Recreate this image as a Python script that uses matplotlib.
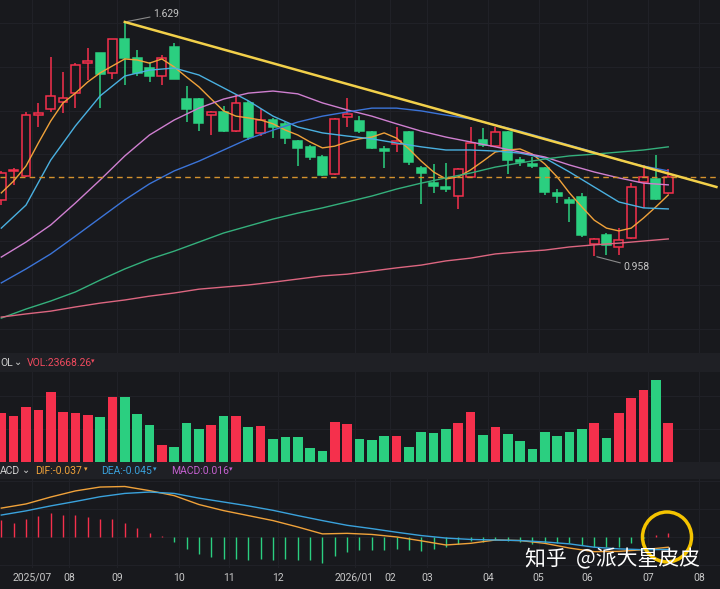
import numpy as np
import matplotlib.pyplot as plt
from matplotlib.patches import Rectangle, Ellipse
from matplotlib.ticker import MultipleLocator

# weekly candles
opens = [1.119, 1.202, 1.187, 1.362, 1.380, 1.400, 1.425, 1.511, 1.540, 1.483,
         1.580, 1.526, 1.497, 1.474, 1.557, 1.408, 1.408, 1.362, 1.371, 1.316,
         1.397, 1.311, 1.348, 1.337, 1.288, 1.271, 1.242, 1.193, 1.357, 1.345,
         1.314, 1.265, 1.279, 1.314, 1.210, 1.167, 1.156, 1.130, 1.185, 1.291,
         1.273, 1.314, 1.233, 1.222, 1.210, 1.139, 1.119, 1.127, 0.992, 1.018,
         0.984, 1.010, 1.170, 1.179, 1.139]
highs = [1.202, 1.210, 1.371, 1.397, 1.529, 1.486, 1.511, 1.555, 1.540, 1.580,
         1.629, 1.549, 1.514, 1.534, 1.569, 1.446, 1.411, 1.374, 1.388, 1.420,
         1.403, 1.380, 1.354, 1.342, 1.291, 1.276, 1.248, 1.354, 1.411, 1.360,
         1.316, 1.273, 1.328, 1.316, 1.216, 1.222, 1.225, 1.210, 1.328, 1.325,
         1.328, 1.316, 1.242, 1.242, 1.213, 1.150, 1.127, 1.139, 1.010, 1.024,
         1.038, 1.167, 1.219, 1.248, 1.208]
lows = [1.104, 1.162, 1.185, 1.328, 1.371, 1.368, 1.382, 1.463, 1.382, 1.466,
        1.448, 1.474, 1.457, 1.448, 1.466, 1.342, 1.316, 1.305, 1.314, 1.314,
        1.291, 1.302, 1.296, 1.279, 1.216, 1.233, 1.187, 1.190, 1.328, 1.311,
        1.265, 1.210, 1.256, 1.219, 1.107, 1.139, 1.142, 1.093, 1.185, 1.271,
        1.271, 1.193, 1.216, 1.210, 1.133, 1.110, 1.056, 1.013, 0.958, 0.961,
        0.961, 1.007, 1.096, 1.119, 1.136]
closes = [1.196, 1.205, 1.362, 1.368, 1.417, 1.411, 1.506, 1.517, 1.480, 1.580,
          1.526, 1.483, 1.474, 1.526, 1.466, 1.380, 1.339, 1.371, 1.316, 1.397,
          1.299, 1.348, 1.328, 1.296, 1.268, 1.242, 1.190, 1.351, 1.365, 1.316,
          1.268, 1.259, 1.288, 1.228, 1.196, 1.159, 1.150, 1.208, 1.282, 1.276,
          1.314, 1.233, 1.228, 1.216, 1.142, 1.130, 1.110, 1.018, 1.007, 0.990,
          1.004, 1.156, 1.185, 1.121, 1.185]
volumes = [29490, 27880, 33300, 31090, 42120, 29890, 29690, 28480, 27280, 39110,
           38910, 29080, 22470, 10030, 9030, 23470, 19860, 22060, 27880, 27880,
           21260, 21860, 13840, 14840, 15040, 8420, 6420, 24070, 23070, 14040,
           13440, 15450, 15450, 9030, 17850, 17450, 19660, 23670, 30090, 16250,
           21060, 16850, 12640, 7820, 18050, 15850, 18050, 19860, 23470, 14640,
           29490, 38310, 43530, 49550, 23668.26]

# moving averages: ma5 read at every week, the others every second week
ma5 = [1.139, 1.173, 1.216, 1.282, 1.345, 1.397, 1.425, 1.457, 1.483, 1.503,
       1.523, 1.520, 1.511, 1.523, 1.500, 1.471, 1.443, 1.408, 1.374, 1.359,
       1.354, 1.348, 1.337, 1.319, 1.305, 1.285, 1.268, 1.273, 1.285, 1.294,
       1.299, 1.311, 1.296, 1.265, 1.230, 1.199, 1.179, 1.185, 1.205, 1.230,
       1.256, 1.262, 1.265, 1.250, 1.222, 1.185, 1.139, 1.099, 1.061, 1.038,
       1.030, 1.038, 1.067, 1.099, 1.133]
ma_idx = list(range(0, 55, 2))
ma10 = [1.038, 1.104, 1.233, 1.331, 1.417, 1.474, 1.491, 1.497, 1.477, 1.440,
        1.403, 1.359, 1.328, 1.311, 1.302, 1.294, 1.282, 1.271, 1.262, 1.262,
        1.259, 1.253, 1.239, 1.199, 1.156, 1.113, 1.096, 1.093]
ma20 = [0.955, 0.998, 1.047, 1.110, 1.176, 1.245, 1.305, 1.348, 1.382, 1.408,
        1.425, 1.431, 1.423, 1.397, 1.377, 1.359, 1.337, 1.316, 1.299, 1.285,
        1.271, 1.256, 1.242, 1.219, 1.199, 1.182, 1.167, 1.162]
ma30 = [0.881, 0.921, 0.964, 1.015, 1.067, 1.119, 1.165, 1.202, 1.230, 1.262,
        1.294, 1.319, 1.342, 1.359, 1.371, 1.382, 1.382, 1.374, 1.362, 1.351,
        1.334, 1.316, 1.296, 1.276, 1.256, 1.233, 1.216, 1.202]
ma60 = [0.780, 0.806, 0.829, 0.855, 0.889, 0.921, 0.949, 0.972, 0.998, 1.024,
        1.044, 1.064, 1.081, 1.096, 1.113, 1.130, 1.150, 1.167, 1.182, 1.196,
        1.213, 1.225, 1.236, 1.245, 1.250, 1.256, 1.262, 1.271]
ma120 = [0.783, 0.792, 0.800, 0.812, 0.823, 0.832, 0.843, 0.852, 0.863, 0.869,
         0.875, 0.883, 0.892, 0.901, 0.906, 0.915, 0.924, 0.932, 0.944, 0.952,
         0.964, 0.970, 0.975, 0.984, 0.990, 0.995, 1.001, 1.007]

trend_idx = [10, 57.9]
trend_val = [1.629, 1.156]

dif = [0.104, 0.119, 0.144, 0.166, 0.180, 0.182, 0.167, 0.149, 0.117, 0.095,
       0.077, 0.059, 0.036, 0.011, 0.013, 0.009, 0.000, -0.014, -0.029, -0.023,
       -0.011, -0.013, -0.023, -0.040, -0.053, -0.052, -0.046, -0.037]
dea = [0.079, 0.094, 0.112, 0.128, 0.145, 0.157, 0.162, 0.157, 0.140, 0.126,
       0.112, 0.096, 0.077, 0.059, 0.042, 0.030, 0.017, 0.005, -0.004, -0.009,
       -0.011, -0.013, -0.018, -0.025, -0.037, -0.043, -0.046, -0.045]
macd = [0.061, 0.052, 0.064, 0.076, 0.085, 0.079, 0.079, 0.073, 0.064, 0.064,
        0.052, 0.031, 0.016, 0.004, -0.018, -0.044, -0.061, -0.073, -0.080, -0.080,
        -0.083, -0.080, -0.083, -0.080, -0.083, -0.083, -0.093, -0.068, -0.053, -0.047,
        -0.047, -0.047, -0.044, -0.047, -0.049, -0.044, -0.037, -0.025, -0.013, -0.017,
        -0.011, -0.013, -0.017, -0.025, -0.021, -0.021, -0.023, -0.029, -0.035, -0.037,
        -0.035, -0.021, -0.004, 0.007, 0.016]

month_pos = [2.5, 5.5, 9.4, 14.4, 18.4, 22.4, 28.6, 31.5, 34.5, 39.4, 43.5, 47.4, 52.4, 56.5]
month_labels = ['2025/07', '08', '09', '10', '11', '12', '2026/01', '02', '03',
                '04', '05', '06', '07', '08']

BG = '#18191d'
BAND = '#1f2025'
GRID = '#202127'
UP = '#f5304c'
DOWN = '#2bcf80'
FONT = ['Roboto', 'DejaVu Sans']

n = len(opens)
idx = np.arange(n)
cols = [UP if closes[i] >= opens[i] else DOWN for i in range(n)]
H = 589.0

fig = plt.figure(figsize=(7.2, 5.89), dpi=100, facecolor=BG)
ax = fig.add_axes([0, 1 - 353 / H, 1, 353 / H])
axv = fig.add_axes([0, 1 - 462 / H, 1, 90 / H])
axm = fig.add_axes([0, 1 - 568 / H, 1, 89 / H])

fig.add_artist(Rectangle((0, 1 - 372 / H), 1, 19 / H, transform=fig.transFigure,
                         color=BAND, zorder=-5))
fig.add_artist(Rectangle((0, 1 - 479 / H), 1, 17 / H, transform=fig.transFigure,
                         color=BAND, zorder=-5))

for a in (ax, axv, axm):
    a.set_facecolor(BG)
    for s in a.spines.values():
        s.set_visible(False)
    a.set_xlim(-0.105, 58.19)
    a.set_xticks(month_pos)
    a.grid(True, color=GRID, lw=0.8)
    a.set_axisbelow(True)
    a.tick_params(length=0, labelleft=False, labelbottom=False)

# price panel
ax.set_ylim(0.680, 1.692)
ax.yaxis.set_major_locator(MultipleLocator(0.125))
bw = 0.72
for i in range(n):
    o, h, l, c = opens[i], highs[i], lows[i], closes[i]
    up = c >= o
    ax.vlines(i, l, h, color=cols[i], lw=1.1, zorder=2)
    ax.add_patch(Rectangle((i - bw / 2, min(o, c)), bw, max(abs(c - o), 0.003),
                           facecolor=BG if up else cols[i], edgecolor=cols[i],
                           lw=1.1, zorder=3))

ax.plot(idx, ma5, color='#f0a23a', lw=1, zorder=4)
ax.plot(ma_idx, ma10, color='#4ab0e0', lw=1, zorder=4)
ax.plot(ma_idx, ma20, color='#cf7fd0', lw=1, zorder=4)
ax.plot(ma_idx, ma30, color='#3b74d8', lw=1, zorder=4)
ax.plot(ma_idx, ma60, color='#34b07c', lw=1, zorder=4)
ax.plot(ma_idx, ma120, color='#dc6680', lw=1, zorder=4)
ax.axhline(closes[-1], color='#d4922e', lw=1, ls=(0, (4, 3)), zorder=4)
ax.plot(trend_idx, trend_val, color='#f2d04a', lw=1.8, zorder=5)

ax.annotate('1.629', xy=(10, max(highs)), xytext=(28, 8), textcoords='offset pixels',
            color='#c4c4c4', fontsize=7.5, family=FONT, ha='left', va='center',
            arrowprops=dict(arrowstyle='-', color='#8a8a8a', lw=0.8, shrinkA=0, shrinkB=2))
ax.annotate('0.958', xy=(48, min(lows)), xytext=(29, -11), textcoords='offset pixels',
            color='#c4c4c4', fontsize=7.5, family=FONT, ha='left', va='center',
            arrowprops=dict(arrowstyle='-', color='#8a8a8a', lw=0.8, shrinkA=0, shrinkB=2))

# volume panel
axv.bar(idx, volumes, width=0.78, color=cols, zorder=2)
axv.set_ylim(0, 54160)
axv.yaxis.set_major_locator(MultipleLocator(20000))

# macd panel
mcols = [UP if v > 0 else DOWN for v in macd]
axm.vlines(idx, 0, macd, colors=mcols, lw=1.0, zorder=2)
axm.plot(ma_idx, dif, color='#f0a23a', lw=1, zorder=3)
axm.plot(ma_idx, dea, color='#3aa2dc', lw=1, zorder=3)
axm.set_ylim(-0.112, 0.209)
axm.yaxis.set_major_locator(MultipleLocator(0.1))
axm.set_xticklabels(month_labels)
axm.tick_params(labelbottom=True, labelcolor='#c8c8c8', labelsize=7.5, pad=3.5)
for t in axm.get_xticklabels():
    t.set_family(FONT)
axm.add_patch(Ellipse((53.9, 0.0), 3.97, 0.18, fill=False, edgecolor='#f5c400',
                      lw=2.5, clip_on=False, zorder=6))

# header rows
def label(x, y, s, color, size=7.5):
    fig.text(x / 720, 1 - y / H, s, color=color, fontsize=size, family=FONT,
             ha='left', va='center')

label(0, 363, 'OL', '#d0d0d0')
label(14, 362, '⌄', '#d0d0d0', 7)
label(27, 363, 'VOL:%.2f' % volumes[-1], '#f04a5e')
label(91, 362, '▾', '#f04a5e', 5)

label(0, 471, 'ACD', '#d0d0d0')
label(22, 470, '⌄', '#d0d0d0', 7)
label(35, 471, 'DIF:%.3f' % dif[-1], '#f0a23a')
label(84, 470, '▾', '#f0a23a', 5)
label(101, 471, 'DEA:%.3f' % dea[-1], '#3aa2dc')
label(153, 470, '▾', '#3aa2dc', 5)
label(171, 471, 'MACD:%.3f' % macd[-1], '#c560d0')
label(229, 470, '▾', '#c560d0', 5)

fig.text(525 / 720, 1 - 559 / H, '知乎  @派大星皮皮', color='white', fontsize=15,
         family=['Noto Sans CJK SC', 'DejaVu Sans'], ha='left', va='center', zorder=10)

fig.savefig('out.png', dpi=100, facecolor=BG)
